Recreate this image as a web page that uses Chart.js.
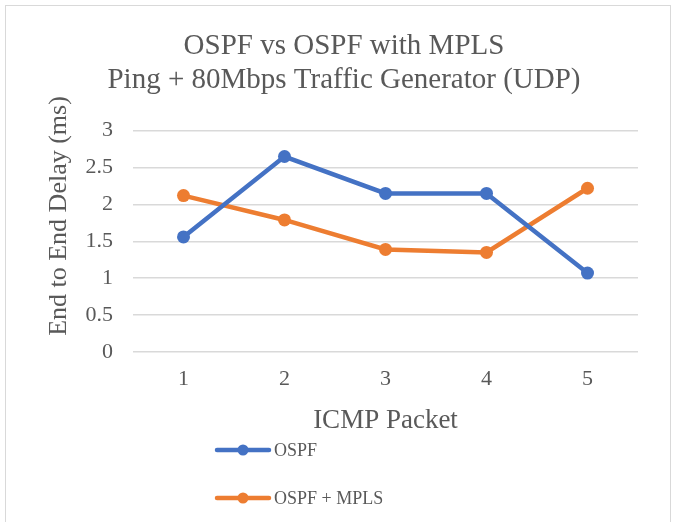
<!DOCTYPE html>
<html>
<head>
<meta charset="utf-8">
<script src="https://cdn.jsdelivr.net/npm/chart.js@4/dist/chart.umd.min.js"></script>
<style>
  html, body { margin: 0; padding: 0; background: #fff; overflow: hidden; }
  #frame { position: absolute; left: 5px; top: 5px; width: 666px; height: 540px; border: 1px solid #d9d9d9; box-sizing: border-box; }
  #wrap { position: absolute; left: 0; top: 0; width: 678px; height: 522px; }
</style>
</head>
<body>
<div id="frame"></div>
<div id="wrap"><canvas id="delay-chart" width="678" height="522"></canvas></div>
<script>
const packets = ['1', '2', '3', '4', '5'];
const ospfDelay = [1.56, 2.65, 2.15, 2.15, 1.07];
const mplsDelay = [2.12, 1.79, 1.39, 1.35, 2.22];
const titleLines = ['OSPF vs OSPF with MPLS', 'Ping + 80Mbps Traffic Generator (UDP)'];
const yAxisTitle = 'End to End Delay (ms)';
const xAxisTitle = 'ICMP Packet';

const serif = '"Liberation Serif", "Times New Roman", serif';
const textColor = '#595959';

// Excel puts the y title a bit above the plot centre and stacks the legend under the x title
const excelExtras = {
    id: 'excelExtras',
    afterDraw(chart) {
        const ctx = chart.ctx;
        ctx.save();
        ctx.fillStyle = textColor;
        ctx.font = '26px ' + serif;
        ctx.textAlign = 'center';
        ctx.textBaseline = 'alphabetic';
        ctx.translate(66, 216);
        ctx.rotate(-Math.PI / 2);
        ctx.fillText(yAxisTitle, 0, 0);
        ctx.restore();

        const rows = [450, 498];
        ctx.save();
        chart.data.datasets.forEach((ds, i) => {
            const y = rows[i];
            ctx.strokeStyle = ds.borderColor;
            ctx.lineWidth = 4.5;
            ctx.lineCap = 'round';
            ctx.beginPath();
            ctx.moveTo(217, y);
            ctx.lineTo(269, y);
            ctx.stroke();
            ctx.fillStyle = ds.borderColor;
            ctx.beginPath();
            ctx.arc(243, y, 5.5, 0, Math.PI * 2);
            ctx.fill();
            ctx.fillStyle = textColor;
            ctx.font = '18px ' + serif;
            ctx.textBaseline = 'middle';
            ctx.fillText(ds.label, 274, y + 1);
        });
        ctx.restore();
    }
};

const ctx = document.getElementById('delay-chart').getContext('2d');
new Chart(ctx, {
    type: 'line',
    data: {
        labels: packets,
        datasets: [
            { label: 'OSPF', data: ospfDelay, borderColor: '#4472C4', backgroundColor: '#4472C4', borderWidth: 4.5, pointRadius: 6.5, pointBorderWidth: 0, tension: 0 },
            { label: 'OSPF + MPLS', data: mplsDelay, borderColor: '#ED7D31', backgroundColor: '#ED7D31', borderWidth: 4.5, pointRadius: 6.5, pointBorderWidth: 0, tension: 0 }
        ]
    },
    options: {
        responsive: false,
        animation: false,
        layout: { padding: { left: 50, right: 40, top: 0, bottom: 84 } },
        plugins: {
            legend: { display: false },
            tooltip: { enabled: false },
            title: {
                display: true,
                text: titleLines,
                color: textColor,
                font: { family: serif, size: 29, weight: 'normal', lineHeight: 1.15 },
                padding: { top: 30, bottom: 34 }
            }
        },
        scales: {
            x: {
                offset: true,
                grid: { display: false },
                border: { display: false },
                ticks: { color: textColor, font: { family: serif, size: 22 }, padding: 6 },
                title: { display: true, text: xAxisTitle, color: textColor, font: { family: serif, size: 27 }, padding: { top: 0, bottom: 1 } },
                afterFit: (scale) => { scale.height = 86; }
            },
            y: {
                min: 0,
                max: 3,
                ticks: { stepSize: 0.5, color: textColor, font: { family: serif, size: 22 }, padding: 20,
                         callback: (v) => String(v) },
                grid: { color: '#d9d9d9', lineWidth: 1.5, drawTicks: false },
                border: { display: false },
                afterFit: (scale) => { scale.width = 83; }
            }
        }
    },
    plugins: [excelExtras]
});
</script>
</body>
</html>
